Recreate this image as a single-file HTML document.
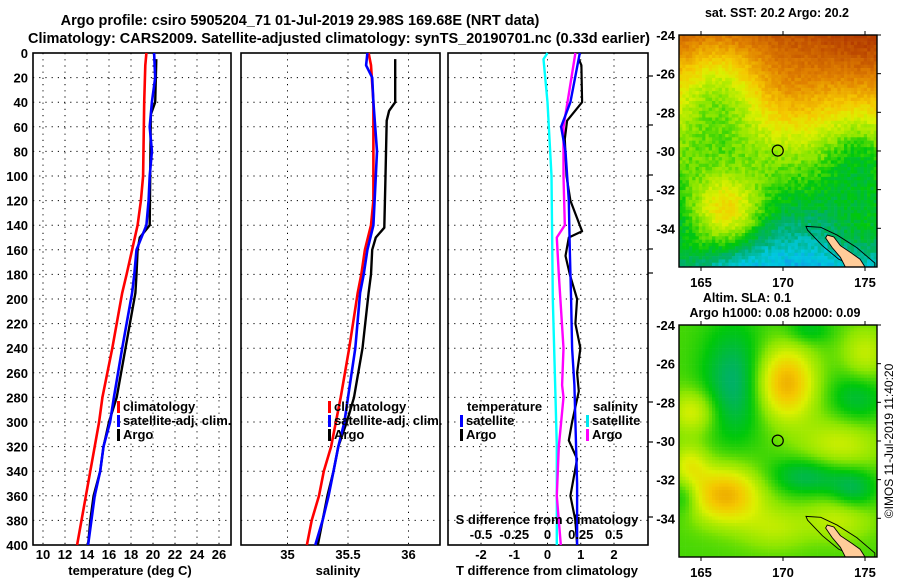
<!DOCTYPE html>
<html><head><meta charset="utf-8">
<style>
html,body{margin:0;padding:0;background:#fff;}
svg{display:block;font-family:"Liberation Sans",Arial,sans-serif;font-weight:bold;}
text{font-size:13px;fill:#000;}
</style></head>
<body>
<svg id="fig" width="900" height="580" viewBox="0 0 900 580" xmlns="http://www.w3.org/2000/svg">
  <text x="300" y="25" text-anchor="middle" style="font-size:14.5px">Argo profile: csiro 5905204_71 01-Jul-2019 29.98S 169.68E (NRT data)</text>
  <text x="339" y="43" text-anchor="middle" textLength="622" style="font-size:14.5px">Climatology: CARS2009. Satellite-adjusted climatology: synTS_20190701.nc (0.33d earlier)</text>
  <g id="p1"></g>
  <g id="p2"></g>
  <g id="p3"></g>
  <g id="m1"></g>
  <g id="m2"></g>
  <text x="777" y="17" text-anchor="middle" style="font-size:12.5px">sat. SST: 20.2 Argo: 20.2</text>
  <text x="747" y="302" text-anchor="middle" style="font-size:12.5px">Altim. SLA: 0.1</text>
  <text x="775" y="317" text-anchor="middle" style="font-size:12.5px">Argo h1000: 0.08 h2000: 0.09</text>
  <text transform="translate(893,441) rotate(-90)" text-anchor="middle" style="font-size:12px;font-weight:normal">©IMOS 11-Jul-2019 11:40:20</text>
</svg>
<script>
// ---------- data ----------
const depthTicks = [0,20,40,60,80,100,120,140,160,180,200,220,240,260,280,300,320,340,360,380,400];
const tempTicks = [10,12,14,16,18,20,22,24,26];
const salTicks = [35,35.5,36];
const salTickLabels = ["35","35.5","36"];
const tDiffTicks = [-2,-1,0,1,2];
const sDiffTicks = [-0.5,-0.25,0,0.25,0.5];
const sDiffTickLabels = ["-0.5","-0.25","0","0.25","0.5"];

const tempClimDepth = [0,10,40,100,120,140,160,180,195,240,280,300,320,340,360,380,400];
const tempClim = [19.4,19.3,19.2,19.1,18.9,18.6,18.1,17.6,17.2,16.3,15.4,15.1,14.7,14.3,13.9,13.5,13.1];
const tempSatDepth = [0,20,40,60,80,100,120,140,160,180,195,240,280,300,320,340,360,380,400];
const tempSat = [20.1,20.2,19.9,19.7,19.9,19.7,19.6,19.4,18.5,18.3,18.1,17.2,16.45,16.1,15.5,15.2,14.7,14.4,14.1];
const tempArgoDepth = [5,40,50,140,150,160,180,195,240,280,300,320,340,360,380,400];
const tempArgo = [20.3,20.2,19.8,19.7,18.8,18.6,18.5,18.4,17.5,16.7,16.0,15.5,15.2,14.6,14.3,14.1];

const salClimDepth = [0,10,40,100,120,140,160,180,195,240,280,300,320,340,360,380,400];
const salClim = [35.67,35.69,35.71,35.71,35.71,35.69,35.64,35.61,35.58,35.51,35.44,35.40,35.36,35.30,35.26,35.20,35.16];
const salSatDepth = [0,10,20,40,80,100,140,160,180,195,240,280,300,320,340,360,380,400];
const salSat = [35.66,35.65,35.70,35.71,35.74,35.73,35.71,35.66,35.63,35.60,35.56,35.50,35.47,35.42,35.38,35.34,35.29,35.23];
const salArgoDepth = [5,40,47,55,100,142,150,160,180,195,240,280,300,320,340,360,380,400];
const salArgo = [35.89,35.89,35.84,35.82,35.81,35.80,35.73,35.70,35.69,35.67,35.62,35.55,35.49,35.42,35.38,35.33,35.29,35.25];

const sDiffSatDepth = [0,5,40,100,200,280,320,400];
const sDiffSat = [0,-0.03,0,0.03,0.04,0.06,0.07,0.07];
const sDiffArgoDepth = [0,40,60,100,140,150,180,240,270,280,320,360,400];
const sDiffArgo = [0.21,0.15,0.12,0.12,0.13,0.07,0.085,0.12,0.11,0.12,0.085,0.07,0.1];
const tDiffSatDepth = [0,40,60,80,120,160,200,240,270,300,350,400];
const tDiffSat = [0.97,0.69,0.41,0.54,0.64,0.67,0.71,0.74,0.81,0.84,0.89,0.89];
const tDiffArgoDepth = [5,10,40,55,70,100,120,145,150,165,180,200,220,240,260,275,300,315,330,360,380,400];
const tDiffArgo = [0.94,1.02,1.04,0.59,0.52,0.57,0.69,1.04,0.64,0.54,0.67,0.89,0.84,0.99,0.89,0.94,0.74,0.64,0.89,0.69,0.84,0.89];

const latTicks = [-24,-26,-28,-30,-32,-34];
const lonTicks = [165,170,175];

// ---------- helpers ----------
const NS = "http://www.w3.org/2000/svg";
function mk(parent, tag, attrs, txt){
  const e = document.createElementNS(NS, tag);
  for (const k in attrs) e.setAttribute(k, attrs[k]);
  if (txt !== undefined) e.textContent = txt;
  parent.appendChild(e);
  return e;
}
const TOP = 53, BOT = 545;
function yD(d){ return TOP + d * (BOT - TOP) / 400; }
function linScale(v0, p0, v1, p1){ return v => p0 + (v - v0) * (p1 - p0) / (v1 - v0); }

function framePanel(g, x0, x1, xGrid){
  for (const d of depthTicks){
    if (d === 0 || d === 400) continue;
    const l = mk(g, 'line', {x1:x0, x2:x1, y1:yD(d), y2:yD(d), stroke:'#000', 'stroke-width':1, 'stroke-dasharray':'1.2,5'});
    
    
  }
  for (const x of xGrid){
    const l = mk(g, 'line', {x1:x, x2:x, y1:TOP, y2:BOT, stroke:'#000', 'stroke-width':1, 'stroke-dasharray':'1.2,5'});
    
    
  }
  const r = mk(g, 'rect', {x:x0, y:TOP, width:x1-x0, height:BOT-TOP, fill:'none', stroke:'#000', 'stroke-width':1.6});
  
  
}
function series(g, xs, ds, sx, color, w, name){
  const pts = xs.map((v,i) => sx(v).toFixed(1) + ',' + yD(ds[i]).toFixed(1)).join(' ');
  const p = mk(g, 'polyline', {points:pts, fill:'none', stroke:color, 'stroke-width':w, 'stroke-linejoin':'round'});
  
  
}
function legendEntry(g, x, y, color, label, name){
  const b = mk(g, 'rect', {x:x, y:y-10, width:3, height:12, fill:color});
  
  
  const t = mk(g, 'text', {x:x+6, y:y}, label);
  
  
}

// ---------- panel 1: temperature ----------
const p1 = document.getElementById('p1');
const sxT = linScale(10, 43, 26, 219);
framePanel(p1, 33, 231, tempTicks.map(sxT));
series(p1, tempClim, tempClimDepth, sxT, '#ff0000', 2.6, 'temp-climatology-line');
series(p1, tempArgo, tempArgoDepth, sxT, '#000000', 2.4, 'temp-argo-line');
series(p1, tempSat, tempSatDepth, sxT, '#0000ff', 2.6, 'temp-satellite-line');
for (const d of depthTicks){
  const t = mk(p1, 'text', {x:28, y:yD(d)+5, 'text-anchor':'end'}, String(d));
  
  
}
for (const v of tempTicks){
  const t = mk(p1, 'text', {x:sxT(v), y:559, 'text-anchor':'middle'}, String(v));
  
  
}
{ const t = mk(p1, 'text', {x:130, y:575, 'text-anchor':'middle'}, 'temperature (deg C)');
  
   }
legendEntry(p1, 117, 411, '#ff0000', 'climatology', 'legend-climatology');
legendEntry(p1, 117, 425, '#0000ff', 'satellite-adj. clim.', 'legend-satellite-adj');
legendEntry(p1, 117, 439, '#000000', 'Argo', 'legend-argo');

// ---------- panel 2: salinity ----------
const p2 = document.getElementById('p2');
const sxS = linScale(35, 287.5, 36, 408.5);
framePanel(p2, 241, 440, salTicks.map(sxS));
series(p2, salArgo, salArgoDepth, sxS, '#000000', 2.4, 'sal-argo-line');
series(p2, salClim, salClimDepth, sxS, '#ff0000', 2.6, 'sal-climatology-line');
series(p2, salSat, salSatDepth, sxS, '#0000ff', 2.6, 'sal-satellite-line');
salTicks.forEach((v,i) => {
  const t = mk(p2, 'text', {x:sxS(v), y:559, 'text-anchor':'middle'}, salTickLabels[i]);
  
  
});
{ const t = mk(p2, 'text', {x:338, y:575, 'text-anchor':'middle'}, 'salinity');
  
   }
legendEntry(p2, 328, 411, '#ff0000', 'climatology', 'legend-climatology-sal');
legendEntry(p2, 328, 425, '#0000ff', 'satellite-adj. clim.', 'legend-satellite-adj-sal');
legendEntry(p2, 328, 439, '#000000', 'Argo', 'legend-argo-sal');

// ---------- panel 3: differences ----------
const p3 = document.getElementById('p3');
const sxTD = linScale(-2, 481, 2, 614);
const sxSD = linScale(-0.5, 481, 0.5, 614);
framePanel(p3, 448, 648, tDiffTicks.map(sxTD));
for (const yy of [76,125,175,200,249,273,402,442,517]){
  const l = mk(p3, 'line', {x1:648, x2:653, y1:yy, y2:yy, stroke:'#000', 'stroke-width':1.2});
  
  
}
series(p3, sDiffSat, sDiffSatDepth, sxSD, '#00ffff', 2.4, 'sdiff-satellite-line');
series(p3, sDiffArgo, sDiffArgoDepth, sxSD, '#ff00ff', 2.4, 'sdiff-argo-line');
series(p3, tDiffArgo, tDiffArgoDepth, sxTD, '#000000', 2.2, 'tdiff-argo-line');
series(p3, tDiffSat, tDiffSatDepth, sxTD, '#0000ff', 2.4, 'tdiff-satellite-line');
tDiffTicks.forEach(v => {
  const t = mk(p3, 'text', {x:sxTD(v), y:559, 'text-anchor':'middle'}, String(v));
  
  
});
sDiffTicks.forEach((v,i) => {
  const t = mk(p3, 'text', {x:sxSD(v), y:539, 'text-anchor':'middle'}, sDiffTickLabels[i]);
  
  
});
{ const t = mk(p3, 'text', {x:547, y:524, 'text-anchor':'middle'}, 'S difference from climatology');
  
   }
{ const t = mk(p3, 'text', {x:547, y:575, 'text-anchor':'middle'}, 'T difference from climatology');
  
   }
{ const t = mk(p3, 'text', {x:467, y:411}, 'temperature');
  
   }
legendEntry(p3, 460, 425, '#0000ff', 'satellite', 'legend-t-satellite');
legendEntry(p3, 460, 439, '#000000', 'Argo', 'legend-t-argo');
{ const t = mk(p3, 'text', {x:593, y:411}, 'salinity');
  
   }
legendEntry(p3, 586, 425, '#00e8f0', 'satellite', 'legend-s-satellite');
legendEntry(p3, 586, 439, '#ff00ff', 'Argo', 'legend-s-argo');

// ---------- maps ----------
const CMAP = [[0,[30,110,235]],[0.15,[0,200,225]],[0.25,[0,175,110]],[0.35,[0,200,10]],[0.45,[140,230,0]],[0.55,[220,240,0]],[0.65,[245,200,0]],[0.8,[225,130,0]],[1,[180,60,0]]];
function cmap(v){
  v = Math.max(0, Math.min(1, v));
  for (let i=1;i<CMAP.length;i++){
    if (v <= CMAP[i][0]){
      const a=CMAP[i-1], b=CMAP[i], f=(v-a[0])/(b[0]-a[0]);
      return 'rgb(' + a[1].map((c,k)=>Math.round(c+(b[1][k]-c)*f)).join(',') + ')';
    }
  }
  return 'rgb(180,60,0)';
}
function g2(lon,lat,cx,cy,sx,sy){ const dx=(lon-cx)/sx, dy=(lat-cy)/sy; return Math.exp(-(dx*dx+dy*dy)/2); }
function sstField(lon,lat){
  let v = 0.48 + (lat+30)*(lat > -30 ? 0.075 : 0.062);
  v -= 0.24*g2(lon,lat,166,-26.8,2,2.2);
  v += 0.32*g2(lon,lat,166.5,-33.2,1.5,1.3);
  v += 0.14*g2(lon,lat,164,-35.5,1.6,1);
  v -= 0.12*g2(lon,lat,174.5,-30,1.5,1.5);
  v += 0.08*g2(lon,lat,175,-24.5,2,1.5);
  v += 0.06*g2(lon,lat,170,-27,1.5,1.5);
  v += 0.1*g2(lon,lat,175,-34.5,1.5,1.2);
  return v;
}
function slaField(lon,lat){
  let v = 0.4;
  v -= 0.15*g2(lon,lat,167,-27,1.3,2);
  v -= 0.13*g2(lon,lat,171.5,-31.8,1.6,0.7);
  v -= 0.12*g2(lon,lat,174.3,-32.5,1,0.8);
  v -= 0.1*g2(lon,lat,174.5,-27.8,1.2,1);
  v -= 0.08*g2(lon,lat,171.5,-24.3,1,0.5);
  v -= 0.1*g2(lon,lat,164,-32.8,0.6,0.7);
  v += 0.3*g2(lon,lat,170.2,-27,1.2,1.3);
  v += 0.3*g2(lon,lat,166.5,-32.8,1.5,1);
  v += 0.15*g2(lon,lat,164.3,-31.3,0.8,0.8);
  v += 0.15*g2(lon,lat,164.5,-28.5,1,0.8);
  v += 0.13*g2(lon,lat,173.5,-30.2,1.8,1);
  v += 0.12*g2(lon,lat,175,-25.5,1,1);
  v += 0.1*g2(lon,lat,169.5,-34.5,1.5,0.8);
  v += 0.12*g2(lon,lat,173.5,-34,1.5,0.8);
  return v;
}
function hash(i,j){
  let h = (i*374761393 + j*668265263) | 0;
  h = (h ^ (h >>> 13)) * 1274126177 | 0;
  h = h ^ (h >>> 16);
  return ((h >>> 0) % 10000) / 10000;
}
const landPoly = [[172.7,-34.35],[173.1,-34.45],[173.5,-34.9],[174.2,-35.3],[174.7,-35.6],[175.0,-36],[173.8,-36],[173.5,-35.5],[173.0,-35.0],[172.6,-34.5]];
const contourPoly = [[171.4,-33.9],[172.3,-33.95],[173.3,-34.35],[174.5,-35.0],[175.6,-35.8],[175.6,-36],[174.5,-36],[173.4,-35.6],[172.4,-34.9],[171.5,-34.1]];

function drawMap(id, y0, field, cell, noise, name){
  const g = document.getElementById(id);
  const x0=679, x1=877, y1=y0+232;
  const lonX = lon => 701 + (lon-165)*16.4;
  const latY = lat => y0 + (-24-lat)*19.33;
  const xLon = x => 165 + (x-701)/16.4;
  const yLat = y => -24 - (y-y0)/19.33;
  let j=0;
  for (let y=y0; y<y1; y+=cell, j++){
    let i=0;
    for (let x=x0; x<x1; x+=cell, i++){
      const n = noise ? (hash(i,j)-0.5)*0.07 : 0;
      const v = field(xLon(x+cell/2), yLat(y+cell/2)) + n;
      mk(g,'rect',{x:x, y:y, width:Math.min(cell,x1-x)+0.3, height:Math.min(cell,y1-y)+0.3, fill:cmap(v)});
    }
  }
  const cp = mk(g,'polygon',{points:contourPoly.map(p=>lonX(p[0])+','+latY(p[1])).join(' '), fill:'none', stroke:'#000', 'stroke-width':0.9});
  
  
  const lp = mk(g,'polygon',{points:landPoly.map(p=>lonX(p[0])+','+latY(p[1])).join(' '), fill:'#ffcc99', stroke:'#000', 'stroke-width':0.9});
  
  
  mk(g,'rect',{x:x1, y:y0-2, width:30, height:240, fill:'#fff'});
  mk(g,'rect',{x:x0-10, y:y1, width:220, height:10, fill:'#fff'});
  const fr = mk(g,'rect',{x:x0, y:y0, width:x1-x0, height:y1-y0, fill:'none', stroke:'#000', 'stroke-width':1.4});
  
  
  const c = mk(g,'circle',{cx:lonX(169.68), cy:latY(-29.98), r:5.5, fill:'none', stroke:'#000', 'stroke-width':1.2});
  
  
  for (const lat of latTicks){
    const t = mk(g,'text',{x:675, y:latY(lat)+5, 'text-anchor':'end'}, String(lat));
    
    
    mk(g,'line',{x1:x1, x2:x1+4, y1:latY(lat), y2:latY(lat), stroke:'#000'});
  }
  for (const lon of lonTicks){
    const t = mk(g,'text',{x:lonX(lon), y:y1+20, 'text-anchor':'middle'}, String(lon));
    
    
    mk(g,'line',{x1:lonX(lon), x2:lonX(lon), y1:y0-4, y2:y0, stroke:'#000'});
    mk(g,'line',{x1:lonX(lon), x2:lonX(lon), y1:y1, y2:y1+4, stroke:'#000'});
  }
}
drawMap('m1', 35, sstField, 3.3, true, 'sst-map');
drawMap('m2', 325, slaField, 3.3, false, 'sla-map');
</script>
</body></html>
